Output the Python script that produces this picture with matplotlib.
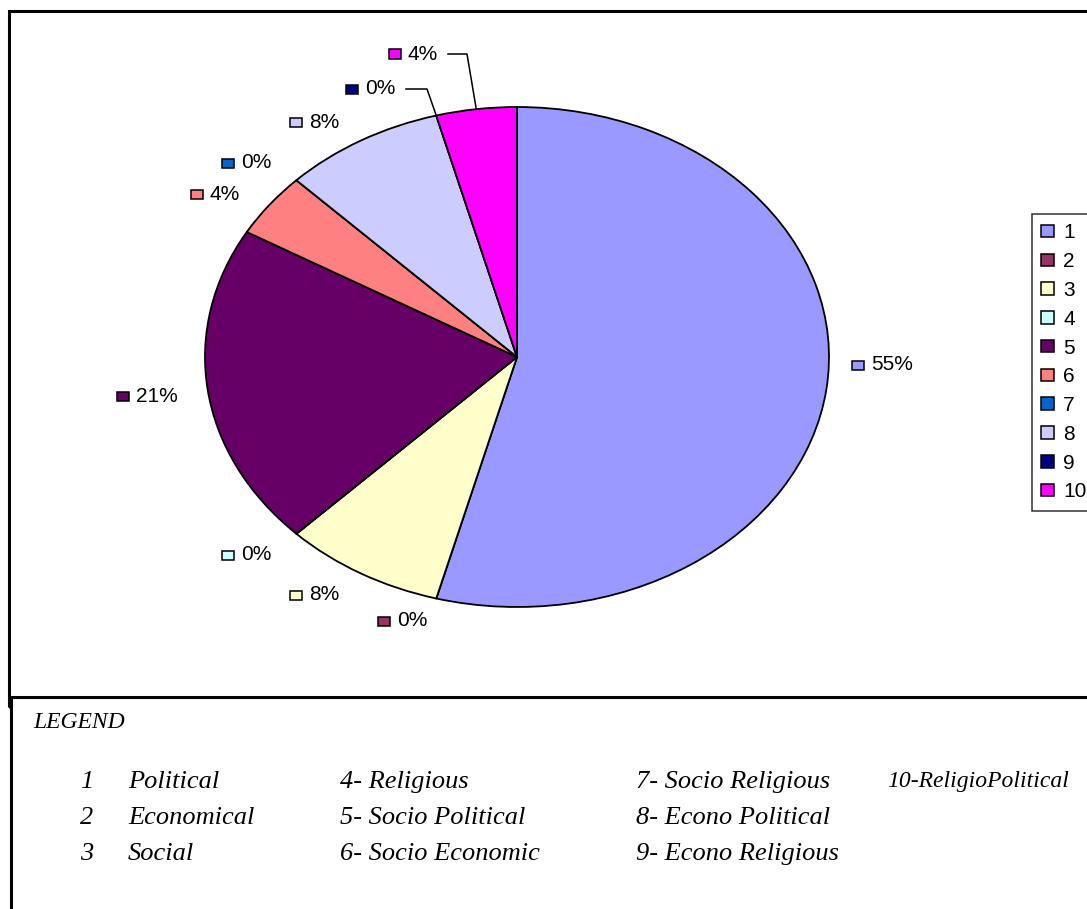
import matplotlib
matplotlib.use("Agg")
import numpy as np
import matplotlib.pyplot as plt
from matplotlib.patches import Rectangle, Patch
from matplotlib.lines import Line2D

# category data
categories = ["1", "2", "3", "4", "5", "6", "7", "8", "9", "10"]
counts = [13, 0, 2, 0, 5, 1, 0, 2, 0, 1]
pct_labels = ["55%", "0%", "8%", "0%", "21%", "4%", "0%", "8%", "0%", "4%"]
colors = ["#9999FF", "#993366", "#FFFFCC", "#CCFFFF", "#660066",
          "#FF8080", "#0066CC", "#CCCCFF", "#000080", "#FF00FF"]

# category names for the key under the chart
key_cols = [
    [("1", "Political"), ("2", "Economical"), ("3", "Social")],
    ["4- Religious", "5- Socio Political", "6- Socio Economic"],
    ["7- Socio Religious", "8- Econo Political", "9- Econo Religious"],
    ["10-ReligioPolitical"],
]

W, H = 1087, 909
fig = plt.figure(figsize=(W / 100, H / 100), dpi=100)


def fx(x):
    return x / W


def fy(y):
    return 1 - y / H


# frames
fig.add_artist(Rectangle((fx(9), fy(707)), fx(1200), 707 / H - 11 / H,
                         transform=fig.transFigure, fill=False,
                         edgecolor="black", linewidth=2.2))
fig.add_artist(Rectangle((fx(11), fy(960)), fx(1200), (960 - 697) / H,
                         transform=fig.transFigure, facecolor="white",
                         edgecolor="black", linewidth=2.2))

# pie axes (elliptical)
cx, cy, rx, ry = 517, 357, 312, 250
ax = fig.add_axes([fx(cx - rx), fy(cy + ry), 2 * rx / W, 2 * ry / H])
wedges, _ = ax.pie(counts, colors=colors, startangle=90, counterclock=False,
                   wedgeprops=dict(edgecolor="black", linewidth=1.3))
for w in wedges:
    w.set_clip_on(False)
ax.set_xlim(-1, 1)
ax.set_ylim(-1, 1)
ax.set_aspect("auto")
ax.axis("off")

# data label anchors (pixels: marker centre)
label_pos = [(858, 365), (384, 621), (296, 595), (228, 555), (123, 397),
             (197, 194), (228, 163), (296, 122), (352, 89), (395, 54)]

lab_font = dict(family="Liberation Sans", fontsize=15)
for (x, y), lab, c in zip(label_pos, pct_labels, colors):
    fig.add_artist(Rectangle((fx(x - 6), fy(y + 4.5)), 12 / W, 9 / H,
                             transform=fig.transFigure, facecolor=c,
                             edgecolor="black", linewidth=1.1))
    fig.text(fx(x + 13), fy(y), lab, va="center", ha="left", **lab_font)


def to_data(x, y):
    return (x - cx) / rx, (cy - y) / ry


# leader lines for the two labels at the top
for i, (x0, elbow) in {8: (406, 427), 9: (448, 467)}.items():
    w = wedges[i]
    mid = (w.theta1 + w.theta2) / 2
    ex, ey = np.cos(np.radians(mid)), np.sin(np.radians(mid))
    y0 = label_pos[i][1]
    p0 = to_data(x0, y0)
    p1 = to_data(elbow, y0)
    ax.add_line(Line2D([p0[0], p1[0], ex], [p0[1], p1[1], ey],
                       color="black", linewidth=1.1, clip_on=False))

# series legend on the right
handles = [Patch(facecolor=c, edgecolor="black", linewidth=1.1) for c in colors]
leg = fig.legend(handles, categories, loc="upper left",
                 bbox_to_anchor=(fx(1032), fy(214)), frameon=True,
                 fancybox=False, prop=dict(family="Liberation Sans", size=15),
                 handlelength=0.6, handleheight=0.55, handletextpad=0.45,
                 labelspacing=0.47, borderpad=0.45, borderaxespad=0)
leg.get_frame().set_edgecolor("black")
leg.get_frame().set_linewidth(1.1)

# category key
key_font = dict(family="Liberation Serif", style="italic", fontsize=19)
fig.text(fx(33), fy(722), "LEGEND", va="center", **dict(key_font, fontsize=17))
rows_y = [782, 818, 854]
for (num, name), y in zip(key_cols[0], rows_y):
    fig.text(fx(80), fy(y), num, va="center", **key_font)
    fig.text(fx(128), fy(y), name, va="center", **key_font)
for txt, y in zip(key_cols[1], rows_y):
    fig.text(fx(340), fy(y), txt, va="center", **key_font)
for txt, y in zip(key_cols[2], rows_y):
    fig.text(fx(636), fy(y), txt, va="center", **key_font)
fig.text(fx(887), fy(782), key_cols[3][0], va="center",
         **dict(key_font, fontsize=17))

fig.savefig("out.png", dpi=100)
